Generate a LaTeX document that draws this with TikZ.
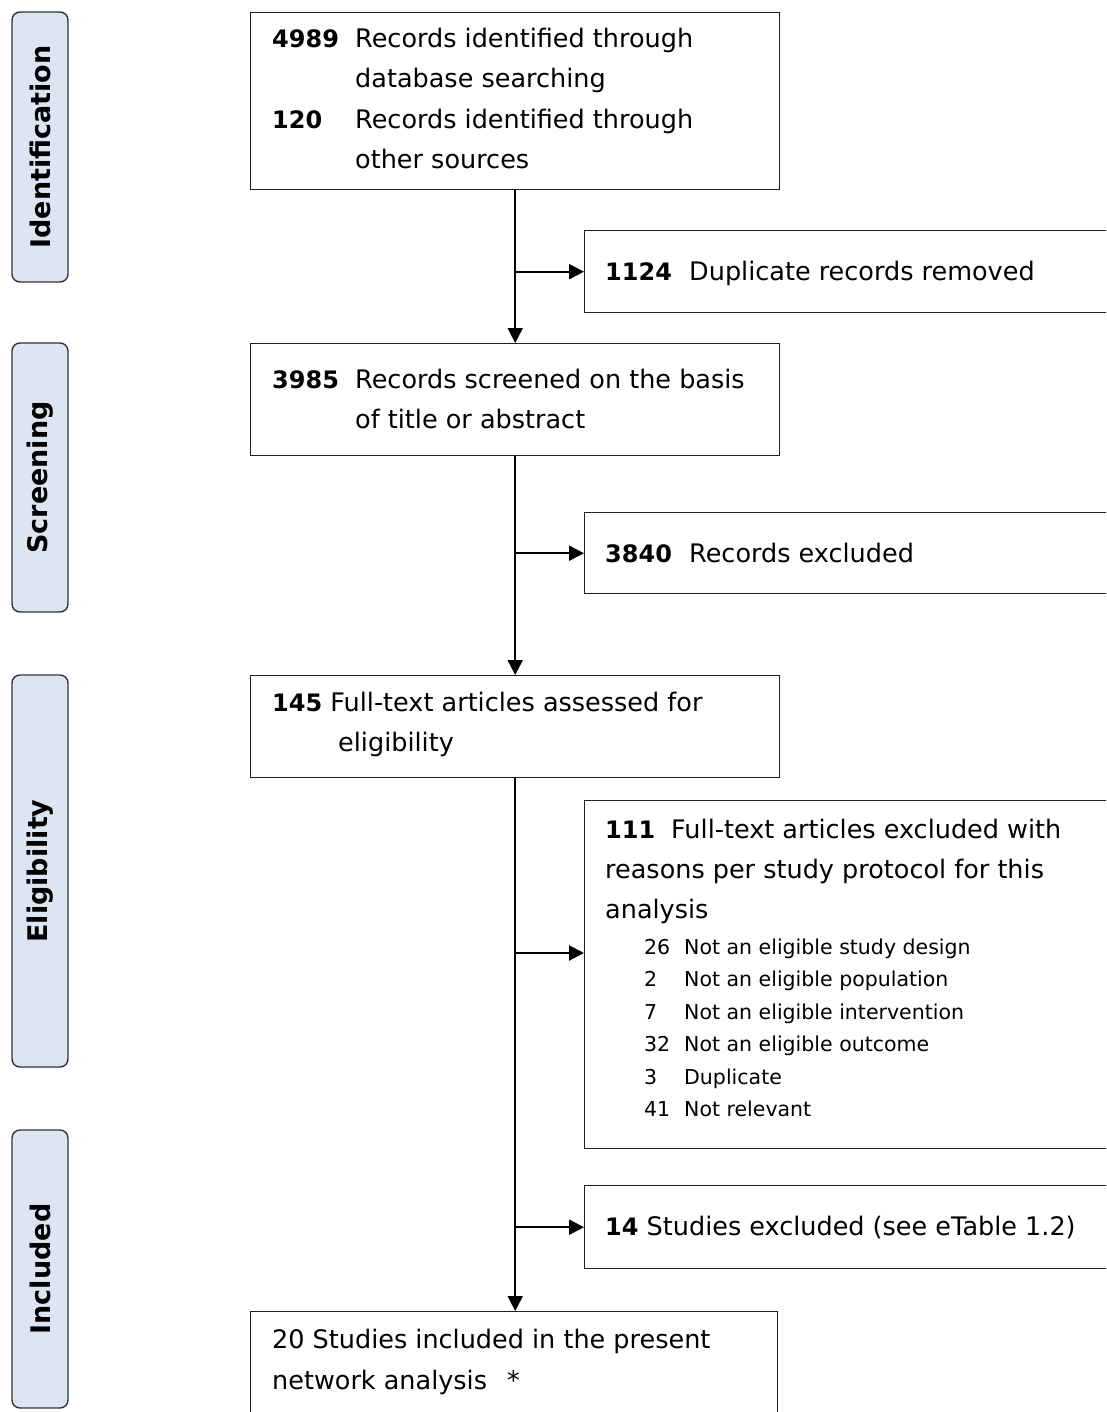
\documentclass[tikz,border=0pt]{standalone}
\usepackage{fontspec}
\setmainfont{DejaVu Sans}
\usetikzlibrary{arrows.meta}
\definecolor{phasefill}{HTML}{DCE6F2}
\definecolor{phaseline}{HTML}{333333}
\definecolor{boxline}{HTML}{202020}
\begin{document}
\begin{tikzpicture}[x=1pt,y=-1pt,
  flowbox/.style={draw=boxline, line width=1.4pt, fill=white, inner sep=0pt, anchor=north west},
  phasebox/.style={draw=phaseline, line width=1.4pt, fill=phasefill, rounded corners=8pt,
    rotate=90, inner sep=0pt, font=\fontsize{27}{30}\selectfont\bfseries},
  txt/.style={anchor=base west, inner sep=0pt, font=\fontsize{25.5}{40}\selectfont},
  num/.style={anchor=base west, inner sep=0pt, font=\fontsize{24}{40}\selectfont\bfseries},
  subtxt/.style={anchor=base west, inner sep=0pt, font=\fontsize{20.5}{30}\selectfont},
  flow/.style={line width=2pt, -{Triangle[length=15pt,width=15pt]}}
]
\useasboundingbox (0,0) rectangle (1106,1412);
\clip (0,0) rectangle (1106,1412);

% phase labels on the left
\node[phasebox, minimum width=270pt, minimum height=56pt] (phId) at (40,147) {Identification};
\node[phasebox, minimum width=269pt, minimum height=56pt] (phSc) at (40,477.5) {Screening};
\node[phasebox, minimum width=392pt, minimum height=56pt] (phEl) at (40,871) {Eligibility};
\node[phasebox, minimum width=278pt, minimum height=56pt] (phIn) at (40,1269) {Included};

% main column
\node[flowbox, minimum width=529pt, minimum height=177pt] (b1) at (250,12) {};
\node[flowbox, minimum width=529pt, minimum height=112pt] (b2) at (250,343) {};
\node[flowbox, minimum width=529pt, minimum height=102pt] (b3) at (250,675) {};
\node[flowbox, minimum width=527pt, minimum height=120pt] (b4) at (250,1311) {};

% exclusion boxes on the right
\node[flowbox, minimum width=540pt, minimum height=82pt] (dup) at (584,230) {};
\node[flowbox, minimum width=540pt, minimum height=81pt] (excl) at (584,512) {};
\node[flowbox, minimum width=540pt, minimum height=348pt] (why) at (584,800) {};
\node[flowbox, minimum width=540pt, minimum height=83pt] (st14) at (584,1185) {};

% texts of the main column
\node[num] (n1a) at (272,48) {4989};
\node[txt] (t1a) at (355,48) {Records identified through};
\node[txt] (t1b) at (355,88) {database searching};
\node[num] (n1b) at (272,129) {120};
\node[txt] (t1c) at (355,129) {Records identified through};
\node[txt] (t1d) at (355,169) {other sources};

\node[num] (n2) at (272,388) {3985};
\node[txt] (t2a) at (355,388) {Records screened on the basis};
\node[txt] (t2b) at (355,428) {of title or abstract};

\node[txt] (t3a) at (272,711) {{\fontsize{24}{40}\selectfont\bfseries 145} Full-text articles assessed for};
\node[txt] (t3b) at (338,751) {eligibility};

\node[txt] (t4a) at (272,1348) {20 Studies included in the present};
\node[txt] (t4b) at (272,1389) {network analysis\hspace{20pt}*};

% texts of the exclusion boxes
\node[num] (nd) at (605,281) {1124};
\node[txt] (td) at (689,281) {Duplicate records removed};

\node[num] (ne) at (605,562) {3840};
\node[txt] (te) at (689,562) {Records excluded};

\node[num] (nw) at (605,838) {111};
\node[txt] (tw1) at (671,838) {Full-text articles excluded with};
\node[txt] (tw2) at (605,878) {reasons per study protocol for this};
\node[txt] (tw3) at (605,918) {analysis};
\node[subtxt] (r1n) at (644,954) {26};
\node[subtxt] (r1t) at (684,954) {Not an eligible study design};
\node[subtxt] (r2n) at (644,986) {2};
\node[subtxt] (r2t) at (684,986) {Not an eligible population};
\node[subtxt] (r3n) at (644,1019) {7};
\node[subtxt] (r3t) at (684,1019) {Not an eligible intervention};
\node[subtxt] (r4n) at (644,1051) {32};
\node[subtxt] (r4t) at (684,1051) {Not an eligible outcome};
\node[subtxt] (r5n) at (644,1084) {3};
\node[subtxt] (r5t) at (684,1084) {Duplicate};
\node[subtxt] (r6n) at (644,1116) {41};
\node[subtxt] (r6t) at (684,1116) {Not relevant};

\node[txt] (ts) at (605,1235) {{\fontsize{24}{40}\selectfont\bfseries 14} Studies excluded (see eTable 1.2)};

% flow down the main column
\draw[flow] (b1.south) -- (b2.north);
\draw[flow] (b2.south) -- (b3.north);
\draw[flow] (b3.south) -- (b3.south |- b4.north);

% branches to the exclusion boxes
\path (why.north west) ++(0,153) coordinate (whyIn);
\draw[flow] (b1.south |- dup.west) -- (dup.west);
\draw[flow] (b2.south |- excl.west) -- (excl.west);
\draw[flow] (b3.south |- whyIn) -- (whyIn);
\draw[flow] (b3.south |- st14.west) -- (st14.west);
\end{tikzpicture}
\end{document}
